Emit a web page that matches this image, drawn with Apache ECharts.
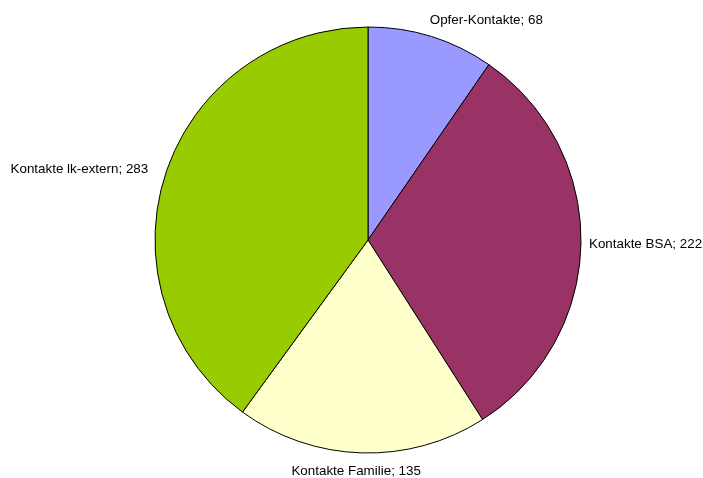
<!DOCTYPE html>
<html>
<head>
<meta charset="utf-8">
<script src="https://cdn.jsdelivr.net/npm/echarts@6/dist/echarts.min.js"></script>
<style>
  html, body { margin: 0; padding: 0; background: #fff; }
  #chart { width: 703px; height: 478px; }
</style>
</head>
<body>
<div id="chart"></div>
<script>
const names = ['Opfer-Kontakte', 'Kontakte BSA', 'Kontakte Familie', 'Kontakte lk-extern'];
const values = [68, 222, 135, 283];
const colors = ['#9999FF', '#993366', '#FFFFCC', '#99CC00'];

// per slice label tweaks: [line length, offset]
const labelPos = [[15, [-11, -2]], [5, [-2, 0]], [15, [65, 3]], [15, [2, 0]]];

let pieData = names.map((n, i) => ({
  name: n,
  value: values[i],
  itemStyle: { color: colors[i] },
  label: { offset: labelPos[i][1] },
  labelLine: { show: false, length: labelPos[i][0], length2: 0 }
}));

echarts.init(document.getElementById('chart')).setOption({
  animation: false,
  series: [{
    type: 'pie',
    center: [368, 240],
    radius: 213,
    startAngle: 90,
    clockwise: true,
    avoidLabelOverlap: false,
    itemStyle: { borderColor: '#000', borderWidth: 1 },
    label: {
      show: true,
      position: 'outside',
      formatter: '{b}; {c}',
      fontFamily: 'Liberation Sans, Arial, sans-serif',
      fontSize: 13.4,
      color: '#000'
    },
    labelLine: { show: false, length: 15, length2: 0 },
    emphasis: { disabled: true },
    data: pieData
  }]
});
</script>
</body>
</html>
